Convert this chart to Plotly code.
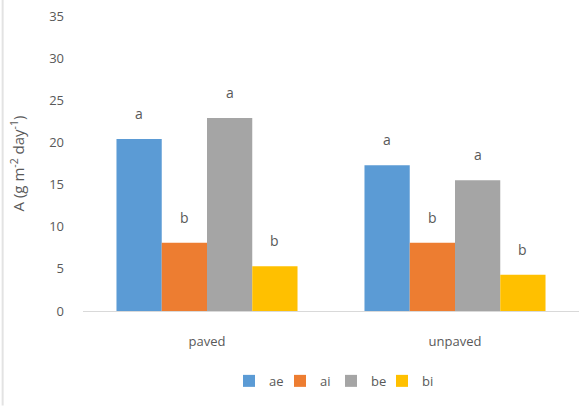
import plotly.graph_objects as go

# Categories and series
sites = ["paved", "unpaved"]
series_names = ["ae", "ai", "be", "bi"]
ae = [20.4, 17.3]
ai = [8.1, 8.1]
be = [22.9, 15.5]
bi = [5.3, 4.3]
letters_ae = ["a", "a"]
letters_ai = ["b", "b"]
letters_be = ["a", "a"]
letters_bi = ["b", "b"]
y_ticks = [0, 5, 10, 15, 20, 25, 30, 35]

colors = ["#5B9BD5", "#ED7D31", "#A5A5A5", "#FFC000"]
values = [ae, ai, be, bi]
letters = [letters_ae, letters_ai, letters_be, letters_bi]

text_color = "#595959"
font_family = "Open Sans, Liberation Sans, sans-serif"
bargap = 0.27

fig = go.Figure()
for name, vals, col in zip(series_names, values, colors):
    fig.add_trace(go.Bar(
        x=sites, y=vals, name=name,
        marker=dict(color=col, line=dict(width=0)),
    ))

# Significance letters above each bar (grouped bar centre offsets)
n = len(series_names)
bar_w = (1 - bargap) / n
for k, (vals, labs) in enumerate(zip(values, letters)):
    for i, (v, lab) in enumerate(zip(vals, labs)):
        fig.add_annotation(
            x=i + (k - (n - 1) / 2) * bar_w, y=v, xref="x", yref="y",
            text=lab, showarrow=False, yanchor="bottom", yshift=14,
            font=dict(size=14, color=text_color),
        )

# faint frame edge on the left
fig.add_shape(type="line", xref="paper", yref="paper",
              x0=-0.162, x1=-0.162, y0=-0.32, y1=1.06,
              line=dict(color="#E3E3E3", width=2))

fig.update_layout(
    width=585, height=406,
    barmode="group", bargap=bargap, bargroupgap=0,
    plot_bgcolor="white", paper_bgcolor="white",
    margin=dict(l=83, r=6, t=16, b=95),
    font=dict(family=font_family, size=13, color=text_color),
    showlegend=True,
    legend=dict(orientation="h", x=0.5, xanchor="center", y=-0.237, yanchor="middle",
                font=dict(size=13, color=text_color), itemwidth=30,
                entrywidth=6, entrywidthmode="pixels",
                traceorder="normal"),
)
fig.update_xaxes(showgrid=False, showline=True, linecolor="#D9D9D9", linewidth=1,
                 ticks="", ticklabelstandoff=18,
                 tickfont=dict(size=13, color=text_color))
fig.update_yaxes(range=[0, 35], tickvals=y_ticks, showgrid=False, zeroline=False,
                 showline=False, ticks="", ticklabelstandoff=18,
                 tickfont=dict(size=13, color=text_color),
                 title=dict(text="A (g m<sup>-2</sup> day<sup>-1</sup>)",
                            font=dict(size=15, color=text_color), standoff=20))

fig.write_html("out.html")
